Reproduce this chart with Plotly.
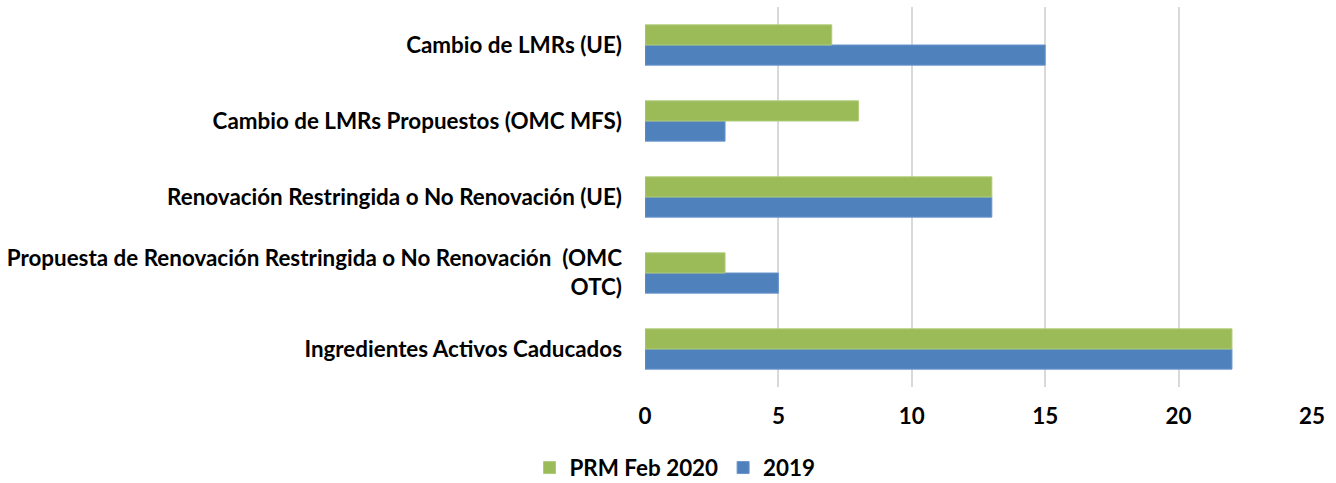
import plotly.graph_objects as go

categories = [
    "Ingredientes Activos Caducados",
    "Propuesta de Renovación Restringida o No Renovación  (OMC<br>OTC)",
    "Renovación Restringida o No Renovación (UE)",
    "Cambio de LMRs Propuestos (OMC MFS)",
    "Cambio de LMRs (UE)",
]
values_2019 = [22, 5, 13, 3, 15]
values_prm = [22, 3, 13, 8, 7]
series_names = ["2019", "PRM Feb 2020"]
x_ticks = [0, 5, 10, 15, 20, 25]

FONT = "Lato"
FS = 22.4

fig = go.Figure()
fig.add_trace(go.Bar(
    y=categories, x=values_2019, name=series_names[0], orientation="h",
    marker=dict(color="#4F81BD", line=dict(color="#6A95CC", width=1)),
))
fig.add_trace(go.Bar(
    y=categories, x=values_prm, name=series_names[1], orientation="h",
    marker=dict(color="#9BBB59", line=dict(color="#AFCB78", width=1)),
))

fig.update_layout(
    width=1336, height=483,
    margin=dict(l=645, r=24, t=7, b=96, autoexpand=False),
    barmode="group", bargap=0.47, bargroupgap=0,
    plot_bgcolor="white", paper_bgcolor="white",
    font=dict(family=FONT, size=FS, color="black"),
    showlegend=True,
    legend=dict(orientation="h", traceorder="reversed", x=0.045, xanchor="center",
                yref="container", y=1 - 468 / 483, yanchor="middle",
                font=dict(size=FS, family=FONT, weight="bold"), itemwidth=30),
    xaxis=dict(range=[0, 25], tickvals=x_ticks, showgrid=True, gridcolor="#D9D9D9", gridwidth=2,
               zeroline=False, showline=False, ticklabelstandoff=14,
               tickfont=dict(size=FS, family=FONT, weight="bold")),
    yaxis=dict(showgrid=False, showline=False, zeroline=False, ticklabelstandoff=22,
               tickfont=dict(size=FS, family=FONT, weight="bold")),
)
fig.write_html("out.html", config={"displayModeBar": False},
               post_script="document.body.style.margin='0';")
